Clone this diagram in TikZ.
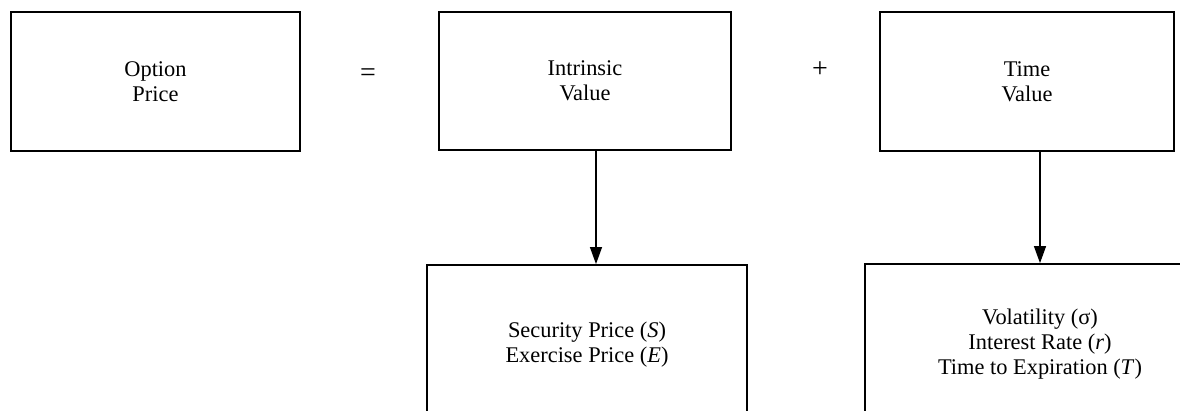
\documentclass[tikz,border=0pt]{standalone}
\usepackage{fontspec}
\setmainfont{Liberation Serif}
\usetikzlibrary{arrows.meta}
\tikzset{
  box/.style={draw=black, line width=0.9pt, rectangle, inner sep=0pt, align=center,
              font=\fontsize{11.2pt}{12.6pt}\selectfont},
  op/.style={inner sep=0pt, font=\fontsize{14pt}{16pt}\selectfont},
  arr/.style={line width=0.6pt, -{Triangle[length=8.5pt,width=6pt]}}
}
\begin{document}
\begin{tikzpicture}[x=0.5pt,y=-0.5pt]
\clip (0,0) rectangle (1180,411);
\fill[white] (0,0) rectangle (1180,411);
\node[box, minimum width=144.5pt, minimum height=69.5pt] (opt) at (155.5,81.5) {Option\\Price};
\node[box, minimum width=146pt, minimum height=69pt] (intr) at (585,81) {Intrinsic\\Value};
\node[box, minimum width=147pt, minimum height=69.5pt] (timev) at (1027,81.5) {Time\\Value};
\node[op] (eq) at (368,75) {=};
\node[op] (plus) at (820,70) {+};
\node[box, minimum width=160pt, minimum height=80pt] (sec) at (587,345)
  {Security Price (\textit{S})\\Exercise Price (\textit{E})};
\node[box, minimum width=175pt, minimum height=80pt] (vol) at (1040,344)
  {Volatility (σ)\\Interest Rate (\textit{r})\\Time to Expiration (\textit{T})};
\coordinate (a1) at (596,0);
\coordinate (a2) at (1040,0);
\draw[arr] (intr.south -| a1) -- (sec.north -| a1);
\draw[arr] (timev.south -| a2) -- (vol.north -| a2);
\end{tikzpicture}
\end{document}
